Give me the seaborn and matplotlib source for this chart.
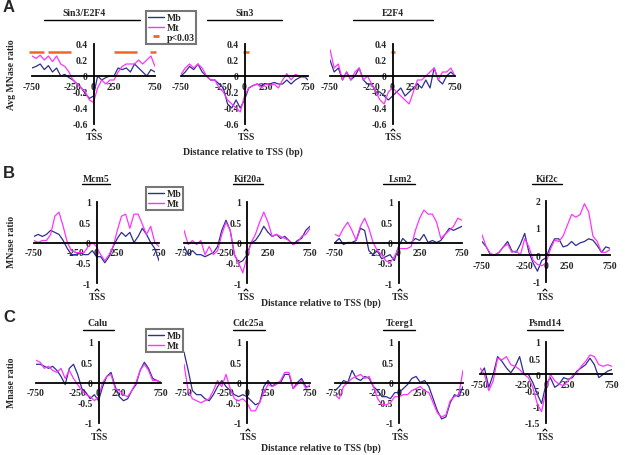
import matplotlib
matplotlib.use('Agg')
import matplotlib.pyplot as plt
from matplotlib.lines import Line2D
import pandas as pd
import seaborn as sns

# positions relative to TSS (bp)
pos = list(range(-750, 751, 50))

# ---- panel A : average MNase ratio ----
sin3e2f4_mb = [0.10, 0.12, 0.15, 0.08, 0.13, 0.05, 0.10, 0.00, 0.02, -0.02, -0.05, -0.10, -0.15, -0.22, -0.28, -0.25,
               0.00, -0.05, -0.02, 0.00, 0.00, 0.10, 0.08, 0.10, 0.05, 0.15, 0.10, 0.05, 0.00, 0.08, 0.05]
sin3e2f4_mt = [0.25, 0.22, 0.26, 0.20, 0.25, 0.18, 0.25, 0.15, 0.12, 0.05, -0.05, -0.10, -0.15, -0.20, -0.30, -0.33,
               -0.15, -0.05, -0.10, -0.05, -0.05, 0.05, 0.12, 0.15, 0.15, 0.15, 0.20, 0.15, 0.20, 0.25, 0.12]
sin3_mb = [0.00, 0.05, 0.12, 0.08, 0.15, 0.05, 0.00, -0.05, -0.05, -0.10, -0.15, -0.35, -0.40, -0.30, -0.40, -0.30,
           -0.15, -0.12, -0.10, -0.12, -0.10, -0.10, -0.08, -0.10, -0.10, -0.05, -0.10, -0.05, -0.02, 0.00, -0.05]
sin3_mt = [0.02, 0.10, 0.15, 0.10, 0.15, 0.10, 0.00, -0.05, -0.05, -0.15, -0.20, -0.30, -0.35, -0.40, -0.45, -0.25,
           -0.15, -0.12, -0.10, -0.15, -0.10, -0.12, -0.10, -0.15, -0.05, 0.03, -0.05, 0.02, 0.00, -0.02, 0.00]
e2f4_mb = [0.20, 0.05, 0.10, -0.05, 0.05, -0.05, 0.00, 0.10, -0.05, -0.10, -0.10, -0.20, -0.20, -0.25, -0.30, -0.25,
           -0.20, -0.15, -0.25, -0.20, -0.15, -0.10, -0.15, -0.05, -0.15, 0.10, -0.05, -0.10, 0.00, 0.05, 0.00]
e2f4_mt = [0.33, 0.10, 0.15, -0.05, 0.05, -0.05, 0.05, 0.10, -0.05, 0.00, -0.10, -0.20, -0.30, -0.35, -0.20, -0.15,
           -0.20, -0.25, -0.30, -0.35, -0.20, -0.05, -0.05, 0.00, 0.05, 0.10, -0.05, 0.05, 0.05, 0.10, 0.00]
# p<0.03 stretches (start, end)
sig_sin3e2f4 = [(-785, -600), (-550, -270), (255, 525), (695, 765)]
sig_sin3 = [(-15, 55)]
sig_e2f4 = [(-20, 30)]

# ---- panel B ----
mcm5_mb = [0.15, 0.20, 0.15, 0.20, 0.30, 0.25, 0.20, 0.05, -0.15, -0.30, -0.30, -0.25, -0.30, -0.30, -0.20, -0.35,
           -0.35, -0.50, -0.35, -0.10, 0.10, 0.25, 0.15, 0.25, 0.00, 0.15, 0.35, 0.20, 0.00, -0.15, -0.45]
mcm5_mt = [0.05, 0.00, 0.05, 0.05, 0.20, 0.65, 0.75, 0.40, 0.00, -0.20, -0.25, -0.25, -0.25, -0.10, 0.00, -0.10,
           -0.30, -0.45, -0.30, -0.10, 0.30, 0.65, 0.70, 0.35, 0.70, 0.70, 0.45, 0.20, 0.40, 0.00, -0.10]
kif20a_mb = [-0.10, -0.30, -0.20, -0.30, -0.30, -0.35, -0.30, -0.25, -0.10, 0.30, 0.55, 0.30, -0.30, -0.50, -0.45, -0.30,
             0.00, 0.05, 0.20, 0.40, 0.25, 0.15, 0.20, 0.10, 0.15, 0.05, -0.05, 0.05, 0.10, 0.30, 0.40]
kif20a_mt = [0.30, -0.05, 0.05, -0.05, 0.05, -0.30, -0.10, -0.30, -0.20, 0.20, 0.50, 0.30, -0.30, -0.50, -0.75, -0.35,
             0.00, 0.20, 0.50, 0.75, 0.50, 0.15, 0.20, 0.15, 0.10, 0.05, -0.05, 0.00, 0.15, 0.20, 0.35]
lsm2_mb = [0.00, 0.10, -0.05, 0.00, 0.00, 0.05, 0.35, 0.30, -0.20, -0.30, -0.20, -0.40, -0.35, -0.30, -0.45, -0.10,
           0.10, 0.00, 0.00, 0.10, 0.05, 0.20, 0.00, 0.05, 0.00, 0.05, 0.20, 0.35, 0.30, 0.35, 0.40]
lsm2_mt = [0.20, 0.15, 0.35, 0.50, 0.30, 0.05, 0.40, 0.60, 0.35, 0.00, -0.20, -0.30, -0.45, -0.50, -0.35, -0.15,
           -0.15, -0.15, -0.10, 0.30, 0.60, 0.80, 0.70, 0.70, 0.50, 0.10, 0.20, 0.30, 0.40, 0.60, 0.55]
kif2c_mb = [0.50, 0.30, 0.00, 0.00, 0.10, 0.30, 0.50, 0.15, 0.10, 0.40, 0.80, 0.10, -0.30, -0.60, -0.20, -0.10,
            0.30, 0.60, 0.60, 0.30, 0.35, 0.50, 0.35, 0.45, 0.50, 0.60, 0.55, 0.35, 0.10, 0.30, 0.25]
kif2c_mt = [0.75, 0.30, 0.05, 0.00, 0.10, 0.30, 0.40, 0.10, 0.15, 0.00, 0.60, 0.30, -0.20, -0.35, -0.40, -0.30,
            0.20, 0.55, 0.50, 0.70, 1.10, 1.50, 1.40, 1.50, 1.90, 1.60, 0.70, 0.50, 0.10, 0.10, 0.20]

# ---- panel C ----
calu_mb = [0.45, 0.45, 0.40, 0.35, 0.40, 0.30, 0.15, -0.05, 0.35, 0.45, 0.20, -0.15, -0.25, -0.40, -0.30, -0.45,
           -0.10, 0.15, 0.25, -0.10, -0.35, -0.45, -0.40, -0.20, -0.05, 0.30, 0.50, 0.35, 0.10, 0.05, 0.00]
calu_mt = [0.55, 0.50, 0.35, 0.40, 0.30, 0.25, 0.35, 0.10, 0.30, 0.10, -0.05, -0.20, -0.30, -0.35, -0.45, -0.35,
           0.00, 0.15, 0.20, -0.15, -0.20, -0.30, -0.35, -0.20, 0.00, 0.30, 0.45, 0.30, 0.05, 0.05, 0.00]
cdc25a_mb = [0.75, 0.30, -0.20, -0.30, -0.30, -0.40, -0.45, -0.30, -0.10, 0.05, -0.10, -0.20, -0.30, -0.35, -0.30, -0.35,
             -0.45, -0.55, -0.50, -0.10, 0.05, -0.10, 0.00, 0.00, 0.20, 0.20, -0.15, 0.00, 0.10, -0.10, -0.10]
cdc25a_mt = [0.45, -0.20, -0.40, -0.45, -0.50, -0.45, -0.40, -0.20, 0.05, -0.10, 0.20, -0.15, -0.40, -0.45, -0.40, -0.50,
             -0.70, -0.70, -0.50, -0.25, -0.05, -0.10, -0.05, 0.05, 0.25, 0.25, -0.15, -0.05, 0.05, -0.15, -0.05]
tcerg1_mb = [-0.20, -0.10, 0.05, 0.00, 0.30, 0.10, 0.05, 0.15, 0.10, -0.10, -0.20, -0.35, -0.35, -0.40, -0.25, -0.25,
             -0.15, -0.05, 0.10, 0.15, 0.00, 0.05, -0.10, -0.40, -0.70, -0.90, -0.85, -0.50, -0.30, -0.35, -0.10]
tcerg1_mt = [-0.30, -0.40, -0.10, 0.00, 0.10, 0.15, 0.20, 0.10, 0.15, -0.10, -0.40, -0.55, -0.55, -0.50, -0.35, -0.35,
             -0.30, -0.30, -0.20, -0.15, -0.10, -0.20, -0.25, -0.50, -0.75, -0.85, -0.80, -0.45, -0.35, -0.30, 0.30]
psmd14_mb = [0.00, 0.20, -0.40, 0.00, 0.55, 0.40, 0.20, 0.05, 0.25, 0.55, 0.00, 0.00, -0.25, -0.60, -0.90, -0.30,
             -0.10, -0.40, -0.30, -0.10, -0.15, -0.10, 0.10, 0.20, 0.30, 0.50, 0.30, -0.10, 0.00, 0.10, 0.15]
psmd14_mt = [0.20, 0.00, -0.50, -0.20, 0.50, 0.45, 0.55, 0.30, 0.25, 0.15, 0.00, -0.10, -0.40, -0.90, -1.15, -0.50,
             0.00, -0.20, -0.30, -0.35, -0.20, -0.05, 0.05, 0.25, 0.40, 0.60, 0.55, 0.30, 0.25, 0.30, 0.25]

MB = '#2e2e8f'
MT = '#ff33ff'
ORANGE = '#f26522'

sns.set_style('white')
plt.rcParams['font.family'] = ['Liberation Serif', 'DejaVu Serif']
plt.rcParams['font.weight'] = 'bold'

W, H = 625, 456
fig = plt.figure(figsize=(W / 100, H / 100), dpi=100)


def fx(px):
    return px / W


def fy(py):
    return 1 - py / H


def make_ax(x0, x1, yt, yb, ylim, yticks, ylabels):
    ax = fig.add_axes([fx(x0), fy(yb), (x1 - x0) / W, (yb - yt) / H])
    ax.set_facecolor('none')
    ax.set_xlim(-750, 750)
    ax.set_ylim(*ylim)
    for s in ['top', 'right']:
        ax.spines[s].set_visible(False)
    ax.spines['left'].set_position(('data', 0))
    ax.spines['bottom'].set_position(('data', 0))
    for s in ['left', 'bottom']:
        ax.spines[s].set_linewidth(1.3)
        ax.spines[s].set_color('black')
    ax.set_xticks([-750, -250, 0, 250, 750])
    ax.set_xticklabels(['-750', '-250', '0', '250', '750'])
    ax.set_yticks(yticks)
    ax.set_yticklabels(ylabels)
    ax.tick_params(axis='both', direction='out', length=3, width=1, labelsize=7, pad=1)
    for t in ax.get_xticklabels() + ax.get_yticklabels():
        t.set_fontweight('bold')
    return ax


def draw(ax, mb, mt):
    df = pd.DataFrame({'pos': pos * 2, 'ratio': mb + mt,
                       'series': ['Mb'] * len(pos) + ['Mt'] * len(pos)})
    sns.lineplot(data=df, x='pos', y='ratio', hue='series', palette={'Mb': MB, 'Mt': MT},
                 ax=ax, legend=False, linewidth=0.9)
    ax.set_xlabel('')
    ax.set_ylabel('')


def title(text, cx, ty, lx0, lx1, ly):
    fig.text(fx(cx), fy(ty), text, ha='center', va='center', fontsize=7, fontweight='bold')
    fig.add_artist(Line2D([fx(lx0), fx(lx1)], [fy(ly), fy(ly)], color='black', lw=1))


def tss(xpx, ypx):
    # small caret pointing at the TSS, then the label
    fig.add_artist(Line2D([fx(xpx - 2), fx(xpx), fx(xpx + 2)],
                          [fy(ypx - 6), fy(ypx - 8), fy(ypx - 6)], color='black', lw=0.8))
    fig.text(fx(xpx), fy(ypx), 'TSS', ha='center', va='center', fontsize=7, fontweight='bold')


yA = [-0.6, -0.4, -0.2, 0, 0.2, 0.4]
yA_lab = ['-0.6', '-0.4', '-0.2', '0', '0.2', '0.4']
yB = [-1, -0.5, 0, 0.5, 1]
yB_lab = ['-1', '-0.5', '0', '0.5', '1']

# ---- A ----
a_axes = [make_ax(32, 155, 45, 125, (-0.6, 0.4), yA, yA_lab),
          make_ax(181, 308, 45, 125, (-0.6, 0.4), yA, yA_lab),
          make_ax(330, 455, 45, 125, (-0.6, 0.4), yA, yA_lab)]
for ax, mb, mt, sig in zip(a_axes,
                           [sin3e2f4_mb, sin3_mb, e2f4_mb],
                           [sin3e2f4_mt, sin3_mt, e2f4_mt],
                           [sig_sin3e2f4, sig_sin3, sig_e2f4]):
    draw(ax, mb, mt)
    for s0, s1 in sig:
        ax.plot([s0, s1], [0.3, 0.3], color=ORANGE, lw=1.8, clip_on=False, solid_capstyle='butt')

title('Sin3/E2F4', 84, 14, 44, 140, 21)
title('Sin3', 245, 14, 207, 282, 21)
title('E2F4', 393, 14, 353, 433, 21)
for x in [94, 246, 393]:
    tss(x, 138)
fig.text(fx(12), fy(75), 'Avg MNase ratio', rotation=90, ha='center', va='center', fontsize=7, fontweight='bold')
fig.text(fx(243), fy(152), 'Distance relative to TSS (bp)', ha='center', va='center', fontsize=7, fontweight='bold')

# ---- B ----
b_axes = [make_ax(34, 159, 203, 284, (-1, 1), yB, yB_lab),
          make_ax(184, 310, 203, 284, (-1, 1), yB, yB_lab),
          make_ax(335, 462, 203, 284, (-1, 1), yB, yB_lab),
          make_ax(482, 610, 202, 283, (-1, 2), [-1, 0, 1, 2], ['-1', '0', '1', '2'])]
for ax, mb, mt in zip(b_axes, [mcm5_mb, kif20a_mb, lsm2_mb, kif2c_mb],
                      [mcm5_mt, kif20a_mt, lsm2_mt, kif2c_mt]):
    draw(ax, mb, mt)
title('Mcm5', 96, 179, 82, 110, 185)
title('Kif20a', 248, 179, 233, 263, 185)
title('Lsm2', 400, 179, 383, 415, 185)
title('Kif2c', 547, 179, 532, 562, 185)
for x in [97, 246, 400, 545]:
    tss(x, 298)
fig.text(fx(12), fy(242), 'MNase ratio', rotation=90, ha='center', va='center', fontsize=7, fontweight='bold')
fig.text(fx(321), fy(303), 'Distance relative to TSS (bp)', ha='center', va='center', fontsize=7, fontweight='bold')

# ---- C ----
c_axes = [make_ax(36, 161, 343, 424, (-1, 1), yB, yB_lab),
          make_ax(184, 310, 343, 424, (-1, 1), yB, yB_lab),
          make_ax(335, 463, 343, 424, (-1, 1), yB, yB_lab),
          make_ax(480, 612, 343, 424, (-1.5, 1), [-1.5, -1, -0.5, 0, 0.5, 1],
                  ['-1.5', '-1', '-0.5', '0', '0.5', '1'])]
for ax, mb, mt in zip(c_axes, [calu_mb, cdc25a_mb, tcerg1_mb, psmd14_mb],
                      [calu_mt, cdc25a_mt, tcerg1_mt, psmd14_mt]):
    draw(ax, mb, mt)
title('Calu', 98, 323, 83, 114, 331)
title('Cdc25a', 248, 323, 233, 265, 331)
title('Tcerg1', 400, 323, 383, 415, 331)
title('Psmd14', 545, 323, 527, 563, 331)
for x in [99, 248, 400, 545]:
    tss(x, 438)
fig.text(fx(12), fy(383), 'Mnase ratio', rotation=90, ha='center', va='center', fontsize=7, fontweight='bold')
fig.text(fx(321), fy(448), 'Distance relative to TSS (bp)', ha='center', va='center', fontsize=7, fontweight='bold')

# ---- legends ----
h_mb = Line2D([], [], color=MB, lw=1)
h_mt = Line2D([], [], color=MT, lw=1)
h_sig = Line2D([], [], color=ORANGE, marker='_', linestyle='None', markersize=5, mew=2)


def legend(handles, labels, x0, y0):
    leg = fig.legend(handles, labels, loc='upper left', bbox_to_anchor=(fx(x0), fy(y0)),
                     fontsize=7, frameon=True, fancybox=False, borderpad=0.2, labelspacing=0.1,
                     handlelength=1.6, handletextpad=0.3, borderaxespad=0)
    leg.get_frame().set_edgecolor('#555555')
    leg.get_frame().set_linewidth(1.5)
    for t in leg.get_texts():
        t.set_fontweight('bold')


legend([h_mb, h_mt, h_sig], ['Mb', 'Mt', 'p<0.03'], 146, 12)
legend([h_mb, h_mt], ['Mb', 'Mt'], 146, 188)
legend([h_mb, h_mt], ['Mb', 'Mt'], 146, 330)

# panel letters
for letter, y in [('A', 8), ('B', 173), ('C', 317)]:
    fig.text(fx(3), fy(y), letter, ha='left', va='center', fontsize=12, fontweight='bold',
             family='Liberation Sans')

fig.savefig('out.png', dpi=100)
